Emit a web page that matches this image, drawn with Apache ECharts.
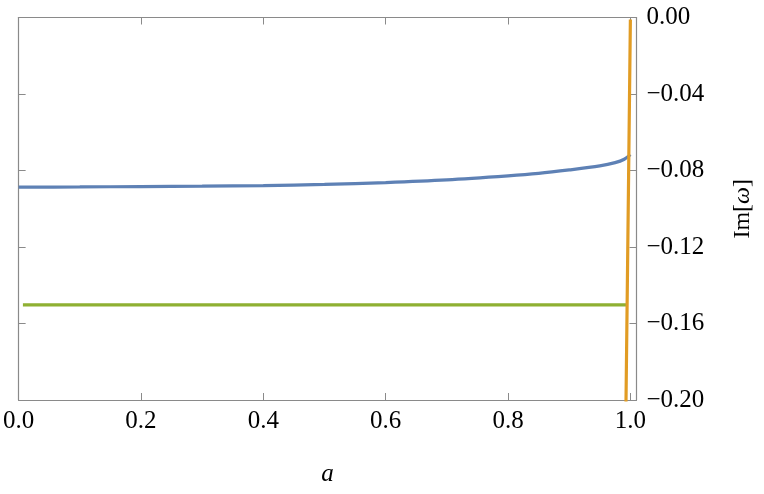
<!DOCTYPE html>
<html>
<head>
<meta charset="utf-8">
<script src="https://cdn.jsdelivr.net/npm/echarts@6/dist/echarts.min.js"></script>
<style>
  html, body { margin: 0; padding: 0; background: #fff; }
  #chart { width: 764px; height: 494px; }
</style>
</head>
<body>
<div id="chart"></div>
<script>
// values
const blueA = [0, 0.1, 0.2, 0.3, 0.4, 0.5, 0.6, 0.7, 0.8, 0.85, 0.9, 0.95, 0.975, 0.99, 1.0]
const blueIm = [-0.0887, -0.0886, -0.0884, -0.0882, -0.0879, -0.0873, -0.0863, -0.0849, -0.0828, -0.0815, -0.0797, -0.0776, -0.0759, -0.0741, -0.0717]
const greenA = [0.007, 0.5, 0.993]
const greenIm = [-0.1503, -0.1503, -0.1503]
const orangeA = [0.9925, 0.9963, 1.0]
const orangeIm = [-0.21, -0.105, -0.001]
const xTicks = [0, 0.2, 0.4, 0.6, 0.8, 1.0]

const pairs = (xs, ys) => xs.map((x, i) => [x, ys[i]])
const fontFamily = "'Liberation Serif', 'DejaVu Serif', serif"
const frameColor = '#8a8a8a'
const minus = s => s.replace('-', '\u2212')
// axes stay on the frame (onZero would pull them to 0)
const tick = { show: true, inside: true, length: 7, lineStyle: { color: frameColor, width: 1 } }
const line = { show: true, onZero: false, lineStyle: { color: frameColor, width: 1.2 } }

const chart = echarts.init(document.getElementById('chart'))

chart.setOption({
  animation: false,
  grid: {
    left: 17.5,
    right: 127.5,
    top: 17.5,
    bottom: 94
  },
  xAxis: [{
    type: 'value',
    position: 'bottom',
    min: 0,
    max: 1.01,
    interval: 0.2,
    name: 'a',
    nameLocation: 'middle',
    nameGap: 62,
    nameTextStyle: { fontFamily: fontFamily, fontStyle: 'italic', fontSize: 25, color: '#000' },
    axisLine: line,
    axisTick: tick,
    axisLabel: {
      margin: 9,
      fontFamily: fontFamily,
      fontSize: 25,
      color: '#000',
      formatter: v => xTicks.some(t => Math.abs(t - v) < 1e-6) ? v.toFixed(1) : ''
    },
    splitLine: { show: false }
  }, {
    type: 'value',
    position: 'top',
    min: 0,
    max: 1.01,
    interval: 0.2,
    axisLine: line,
    axisTick: tick,
    axisLabel: { show: false },
    splitLine: { show: false }
  }],
  yAxis: [{
    type: 'value',
    position: 'right',
    min: -0.2,
    max: 0,
    interval: 0.04,
    name: 'Im[{i|ω}]',
    nameLocation: 'middle',
    nameRotate: 90,
    nameGap: 94,
    nameTextStyle: {
      fontFamily: fontFamily, fontSize: 24, color: '#000',
      rich: { i: { fontFamily: fontFamily, fontStyle: 'italic', fontSize: 24, color: '#000' } }
    },
    axisLine: line,
    axisTick: tick,
    axisLabel: {
      margin: 10,
      fontFamily: fontFamily,
      fontSize: 25,
      color: '#000',
      formatter: v => minus(v.toFixed(2))
    },
    splitLine: { show: false }
  }, {
    type: 'value',
    position: 'left',
    min: -0.2,
    max: 0,
    interval: 0.04,
    axisLine: line,
    axisTick: tick,
    axisLabel: { show: false },
    splitLine: { show: false }
  }],
  series: [{
    type: 'line',
    data: pairs(blueA, blueIm),
    smooth: 0.3,
    showSymbol: false,
    lineStyle: { color: '#5E81B5', width: 3.2 }
  }, {
    type: 'line',
    data: pairs(greenA, greenIm),
    showSymbol: false,
    lineStyle: { color: '#8FB032', width: 3.2 }
  }, {
    type: 'line',
    data: pairs(orangeA, orangeIm),
    showSymbol: false,
    lineStyle: { color: '#E19C24', width: 3.2 }
  }]
})
</script>
</body>
</html>
